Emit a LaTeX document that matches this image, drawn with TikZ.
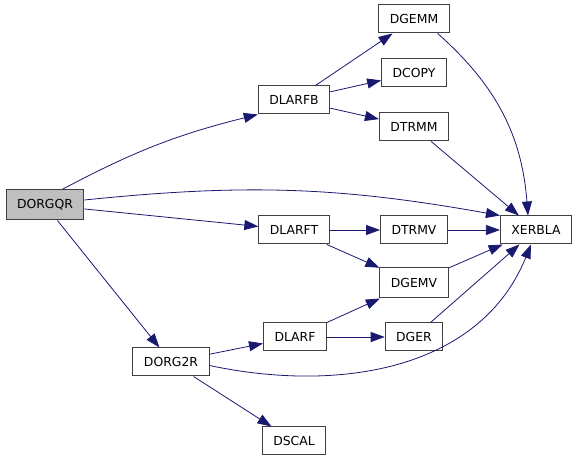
\documentclass[tikz,border=0pt]{standalone}
\usepackage{fontspec}
\setmainfont{DejaVu Sans}
\usetikzlibrary{arrows.meta}
\definecolor{edgeblue}{RGB}{25,25,112}
\definecolor{boxgray}{RGB}{64,64,64}
\begin{document}
\begin{tikzpicture}[x=1pt, y=1pt,
    fn/.style={draw=boxgray, line width=1pt, fill=white, minimum height=28pt, inner xsep=11pt, inner ysep=0pt, font=\fontsize{12.4}{14}\selectfont},
    edge/.style={edgeblue, line width=0.8pt, -{Triangle[length=14pt, width=10pt]}}]
        \useasboundingbox (0,0) rectangle (579,461);
        \node[fn, fill=gray!50, minimum height=30pt] (dorgqr) at (45,256) {DORGQR};
        \node[fn] (dlarfb) at (294,361) {DLARFB};
        \node[fn] (dgemm) at (414,442) {DGEMM};
        \node[fn] (dcopy) at (414,388) {DCOPY};
        \node[fn] (dtrmm) at (414,334) {DTRMM};
        \node[fn] (dlarft) at (294,231) {DLARFT};
        \node[fn] (dtrmv) at (414,231) {DTRMV};
        \node[fn] (xerbla) at (536,231) {XERBLA};
        \node[fn, minimum height=30pt] (dgemv) at (414,178) {DGEMV};
        \node[fn] (dlarf) at (295,124) {DLARF};
        \node[fn] (dger) at (414,124) {DGER};
        \node[fn] (dorg2r) at (171,99) {DORG2R};
        \node[fn] (dscal) at (294,20) {DSCAL};
        \draw[edge] (dorgqr.north) ++(17,0) to[bend left=7] (dlarfb.south west);
        \draw[edge] (dorgqr.east) ++(0,5) to[bend left=8] (xerbla.north west);
        \draw[edge] (dgemm.south east) ++(-12,0) to[bend left=22] ([xshift=-8pt]xerbla.north);
        \draw[edge] (dorg2r.south east) ++(0,11) to[out=-12, in=248] ([xshift=-5pt]xerbla.south);
        \foreach \a/\b in {dorgqr/dlarft, dorgqr/dorg2r, dlarfb/dgemm, dlarfb/dcopy, dlarfb/dtrmm,
            dtrmm/xerbla, dlarft/dtrmv, dlarft/dgemv, dtrmv/xerbla, dgemv/xerbla,
            dlarf/dgemv, dlarf/dger, dger/xerbla, dorg2r/dlarf, dorg2r/dscal}
            \draw[edge] (\a) -- (\b);
\end{tikzpicture}
\end{document}
